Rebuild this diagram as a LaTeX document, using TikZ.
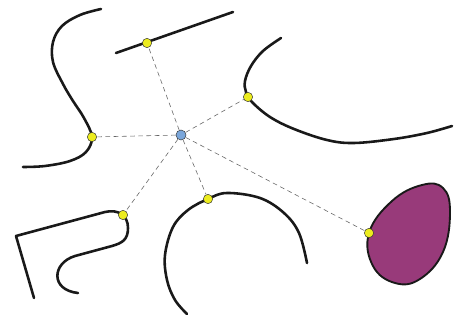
\documentclass[tikz,border=0pt]{standalone}
\usepackage{xcolor}
\usetikzlibrary{positioning}
\definecolor{eggfill}{RGB}{152,58,122}
\definecolor{hitfill}{RGB}{236,236,30}
\definecolor{hubfill}{RGB}{122,166,218}
\tikzset{
  wall/.style   = {line width=2.2pt, black!90, line cap=round, line join=round},  % obstacles
  ray/.style    = {gray!80!black, line width=0.5pt, dash pattern=on 4pt off 3pt},
  hit/.style    = {circle, draw=black!80, fill=hitfill, line width=0.4pt,
                   inner sep=0pt, minimum size=2.8mm},
  hub/.style    = {circle, draw=black!80, fill=hubfill, line width=0.4pt,
                   inner sep=0pt, minimum size=3mm}
}

\begin{document}
\begin{tikzpicture}[x=0.03cm, y=-0.03cm]
  \useasboundingbox (0,0) rectangle (454,320);
  % obstacles
  \draw[wall] (116,53) -- (233,12);
  \draw[wall] plot[smooth, tension=0.6] coordinates {(101,9) (80,15) (62,26) (53,42) (53,62)
     (63,84) (73,101) (84,118) (92,137) (86,152) (70,161) (45,166) (23,167)};
  \draw[wall] plot[smooth, tension=0.6] coordinates {(281,38) (263,51) (251,66) (245,81)
     (246,92) (252,102) (270,117) (294,129) (327,140) (354,143) (394,139) (427,133) (452,126)};
  \draw[wall] (34,298) -- (16,236) -- (105,212)
     .. controls (118,209) and (128,215) .. (128,228)
     .. controls (128,240) and (122,243) .. (112,246) -- (75,256)
     .. controls (52,263) and (50,290) .. (78,293);
  \draw[wall] plot[smooth, tension=0.6] coordinates {(187,314) (175,300) (167,280) (165,255)
     (173,227) (188,210) (208,199) (227,193) (260,198) (284,213) (299,233) (307,263)};
  \draw[wall, line width=1.6pt, fill=eggfill] plot[smooth cycle, tension=0.7] coordinates {
     (369,233) (392,201) (422,185) (443,188) (450,212) (443,252) (420,279) (395,283) (373,266)};
  % hub and hit points
  \node[hub] (c) at (181,135) {};
  \node[hit] (p1) at (147,43) {};
  \node[hit] (p2) at (92,137) {};
  \node[hit] (p3) at (248,97) {};
  \node[hit] (p4) at (123,215) {};
  \node[hit] (p5) at (208,199) {};
  \node[hit] (p6) at (369,233) {};
  \foreach \p in {p1,p2,p3,p4,p5,p6}
    \draw[ray] (c) -- (\p);
\end{tikzpicture}
\end{document}
